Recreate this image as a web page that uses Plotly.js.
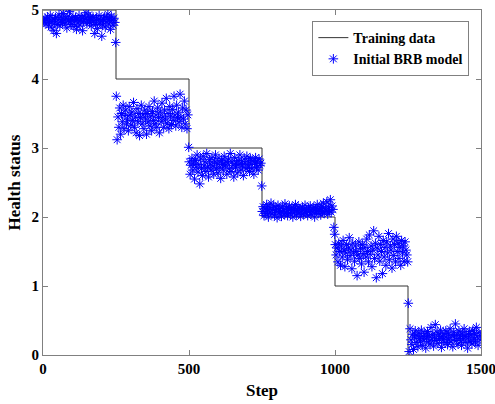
<!DOCTYPE html>
<html>
<head>
<meta charset="utf-8">
<script src="https://cdn.plot.ly/plotly-3.0.1.min.js"></script>
<style>html,body{margin:0;padding:0;background:#fff;}#chart{width:495px;height:404px;}</style>
</head>
<body>
<div id="chart"></div>
<script>
// Training data (step line)
const trainX = [0, 250, 250, 500, 500, 750, 750, 1000, 1000, 1250, 1250, 1500];
const trainY = [5, 5, 4, 4, 3, 3, 2, 2, 1, 1, 0, 0];

// Segment starts (steps) for the model output samples
const segStarts = [0, 250, 500, 750, 1000, 1250];
const segLength = 250;

const seg1 = [4.85,4.82,4.88,4.80,4.86,4.90,4.78,4.84,4.92,4.75,4.83,4.87,4.70,4.81,4.89,4.66,4.79,4.86,4.93,4.77,4.84,4.90,4.82,4.95,4.86,4.80,4.88,4.74,4.91,4.85,4.98,4.83,4.79,4.87,4.90,4.76,4.84,4.89,4.72,4.86,4.81,4.92,4.78,4.85,4.88,4.70,4.83,4.91,4.87,4.96,4.80,4.86,4.93,4.82,4.89,4.77,4.85,4.90,4.84,4.66,4.79,4.88,4.73,4.86,4.92,4.81,4.84,4.62,4.78,4.87,4.90,4.75,4.83,4.89,4.94,4.80,4.86,4.72,4.91,4.85,4.78,4.88,4.82,4.53];
const seg2 = [3.75,3.12,3.45,3.30,3.58,3.20,3.50,3.38,3.62,3.28,3.47,3.55,3.35,3.42,3.25,3.60,3.48,3.33,3.52,3.40,3.66,3.30,3.45,3.22,3.57,3.38,3.50,3.18,3.44,3.62,3.35,3.48,3.28,3.55,3.42,3.20,3.50,3.38,3.60,3.32,3.46,3.25,3.53,3.40,3.68,3.35,3.48,3.30,3.58,3.44,3.22,3.52,3.38,3.65,3.45,3.30,3.55,3.42,3.72,3.36,3.50,3.28,3.60,3.46,3.34,3.56,3.40,3.75,3.48,3.32,3.62,3.44,3.52,3.38,3.78,3.45,3.30,3.58,3.42,3.68,3.35,3.55,3.28,3.48,3.01];
const seg3 = [2.80,2.62,2.75,2.85,2.68,2.78,2.55,2.82,2.72,2.90,2.65,2.76,2.48,2.84,2.70,2.60,2.88,2.74,2.80,2.66,2.92,2.72,2.58,2.83,2.77,2.68,2.86,2.74,2.62,2.80,2.90,2.70,2.78,2.64,2.85,2.72,2.56,2.82,2.76,2.68,2.88,2.74,2.80,2.62,2.78,2.84,2.70,2.92,2.66,2.80,2.75,2.58,2.86,2.72,2.78,2.64,2.82,2.76,2.90,2.68,2.80,2.74,2.60,2.84,2.78,2.70,2.88,2.72,2.80,2.66,2.85,2.76,2.70,2.82,2.62,2.78,2.86,2.72,2.80,2.68,2.84,2.75,2.78,2.45];
const seg4 = [2.08,2.15,2.02,2.12,2.05,2.18,2.10,2.00,2.14,2.07,2.20,2.04,2.11,2.16,2.03,2.09,2.13,1.99,2.17,2.06,2.12,2.08,2.01,2.15,2.10,2.04,2.19,2.07,2.13,2.02,2.11,2.16,2.05,2.09,2.14,2.00,2.12,2.07,2.18,2.03,2.10,2.15,2.06,2.12,2.01,2.09,2.14,2.04,2.11,2.17,2.06,2.10,2.02,2.13,2.08,2.16,2.04,2.11,2.07,2.14,2.00,2.12,2.09,2.18,2.05,2.10,2.13,2.03,2.15,2.08,2.20,2.06,2.12,2.10,2.22,2.04,2.14,2.09,2.25,2.07,2.16,2.11,1.85,1.75];
const seg5 = [1.60,1.45,1.55,1.35,1.62,1.50,1.30,1.58,1.42,1.66,1.52,1.28,1.48,1.60,1.38,1.55,1.70,1.44,1.52,1.25,1.62,1.48,1.36,1.58,1.50,1.15,1.45,1.64,1.40,1.54,1.32,1.60,1.47,1.20,1.56,1.42,1.68,1.50,1.35,1.74,1.46,1.58,1.28,1.52,1.80,1.40,1.62,1.12,1.55,1.45,1.72,1.36,1.60,1.50,1.18,1.66,1.42,1.56,1.30,1.64,1.48,1.76,1.38,1.58,1.52,1.26,1.68,1.44,1.60,1.35,1.72,1.50,1.62,1.40,1.56,1.30,1.66,1.48,1.58,1.36,1.64,1.52,1.45,1.35];
const seg6 = [0.75,0.05,0.38,0.22,0.15,0.30,0.08,0.26,0.35,0.18,0.28,0.12,0.32,0.24,0.20,0.36,0.14,0.27,0.22,0.31,0.10,0.25,0.34,0.19,0.28,0.16,0.40,0.23,0.30,0.13,0.26,0.44,0.21,0.33,0.17,0.29,0.24,0.36,0.11,0.27,0.22,0.31,0.18,0.35,0.25,0.15,0.30,0.22,0.38,0.19,0.28,0.12,0.33,0.26,0.45,0.21,0.30,0.16,0.35,0.24,0.28,0.14,0.32,0.22,0.38,0.27,0.18,0.30,0.10,0.25,0.34,0.20,0.29,0.16,0.36,0.23,0.31,0.19,0.40,0.26,0.14,0.33,0.22,0.28];

const xTicks = [0, 500, 1000, 1500];
const yTicks = [0, 1, 2, 3, 4, 5];

const segs = [seg1, seg2, seg3, seg4, seg5, seg6];
const modelX = [], modelY = [];
segs.forEach((s, k) => {
  s.forEach((v, i) => {
    modelX.push(segStarts[k] + 1 + i * (segLength - 2) / (s.length - 1));
    modelY.push(v);
  });
});

const fontFam = '"Liberation Serif", "Times New Roman", serif';

const traces = [
  {
    x: trainX, y: trainY, type: 'scatter', mode: 'lines',
    name: 'Training data',
    line: {color: '#333333', width: 1}
  },
  {
    x: modelX, y: modelY, type: 'scatter', mode: 'markers',
    name: 'Initial BRB model',
    marker: {symbol: 'asterisk-open', size: 8, color: '#0000ff', line: {color: '#0000ff', width: 1}}
  }
];

const axisCommon = {
  showline: true, linecolor: '#808080', linewidth: 1, mirror: 'ticks',
  ticks: 'inside', ticklen: 5, tickcolor: '#808080',
  showgrid: false, zeroline: false, ticklabeloverflow: 'allow',
  tickfont: {family: fontFam, size: 15, color: '#000', weight: 700}
};

const layout = {
  width: 495, height: 404,
  margin: {l: 43, r: 14, t: 10, b: 49},
  paper_bgcolor: '#fff', plot_bgcolor: '#fff',
  showlegend: true,
  legend: {
    x: 0.615, y: 0.968, xanchor: 'left', yanchor: 'top',
    bgcolor: '#fff', bordercolor: '#808080', borderwidth: 1,
    font: {family: fontFam, size: 14, color: '#000', weight: 700},
    tracegroupgap: 0
  },
  xaxis: Object.assign({}, axisCommon, {
    range: [0, 1500], tickvals: xTicks, ticktext: xTicks.map(String),
    title: {text: 'Step', font: {family: fontFam, size: 17, color: '#000', weight: 700}, standoff: 8}
  }),
  yaxis: Object.assign({}, axisCommon, {
    range: [0, 5], tickvals: yTicks, ticktext: yTicks.map(String),
    title: {text: 'Health status', font: {family: fontFam, size: 17, color: '#000', weight: 700}, standoff: 6}
  })
};

Plotly.newPlot('chart', traces, layout, {displayModeBar: false, staticPlot: true});
</script>
</body>
</html>
